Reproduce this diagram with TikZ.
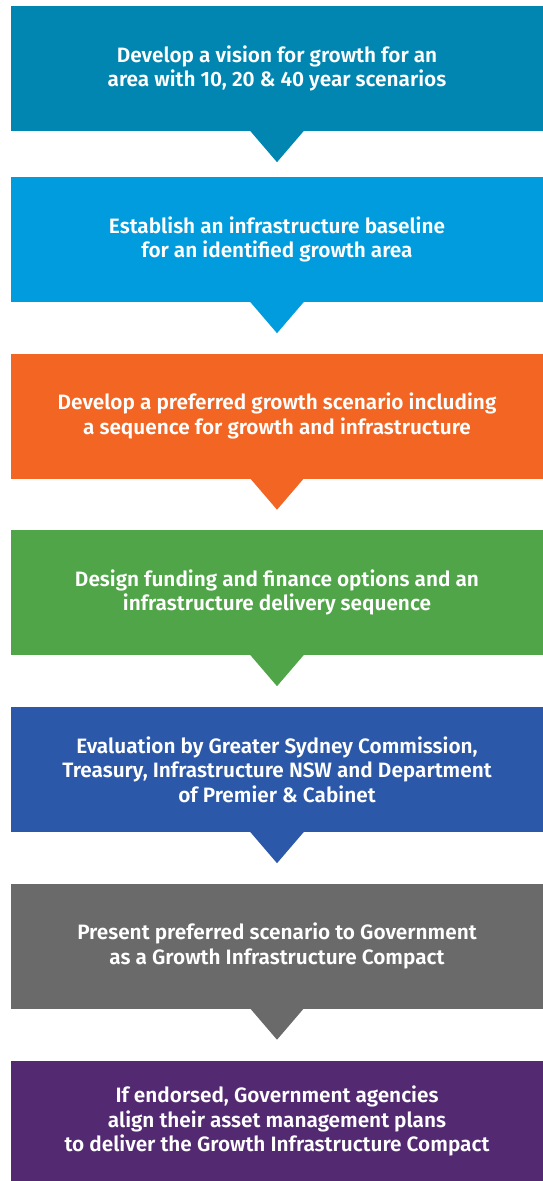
\documentclass[tikz,border=0pt]{standalone}
\usepackage{fontspec}
\setmainfont{Fira Sans SemiBold}
\definecolor{cA}{HTML}{0086B0}
\definecolor{cB}{HTML}{009CDD}
\definecolor{cC}{HTML}{F26522}
\definecolor{cD}{HTML}{50A548}
\definecolor{cE}{HTML}{2B58A8}
\definecolor{cF}{HTML}{6A6A6B}
\definecolor{cG}{HTML}{532A72}
\tikzset{
  stepbox/.style={rectangle, inner sep=0pt, minimum width=532pt, minimum height=125pt,
    text=white, align=center, font=\fontsize{20.8}{24.5}\selectfont}
}
\newcommand{\mypointer}[2]{%
  \fill[#2] ([xshift=-27pt,yshift=0.5pt]#1.south) -- ([xshift=27pt,yshift=0.5pt]#1.south)
    -- ([yshift=-31pt]#1.south) -- cycle;}
\begin{document}
\begin{tikzpicture}[x=1pt,y=-1pt]
\useasboundingbox (0,0) rectangle (543,1181);
\node[stepbox, fill=cA] (s1) at (277,68.5) {Develop a vision for growth for an\\area with 10, 20 \& 40 year scenarios};
\mypointer{s1}{cA}
\node[stepbox, fill=cB] (s2) at (277,239.5) {Establish an infrastructure baseline\\for an identified growth area};
\mypointer{s2}{cB}
\node[stepbox, fill=cC] (s3) at (277,416) {Develop a preferred growth scenario including\\a sequence for growth and infrastructure};
\mypointer{s3}{cC}
\node[stepbox, fill=cD] (s4) at (277,592.5) {Design funding and finance options and an\\infrastructure delivery sequence};
\mypointer{s4}{cD}
\node[stepbox, fill=cE] (s5) at (277,769.5) {Evaluation by Greater Sydney Commission,\\Treasury, Infrastructure NSW and Department\\of Premier \& Cabinet};
\mypointer{s5}{cE}
\node[stepbox, fill=cF] (s6) at (277,946) {Present preferred scenario to Government\\as a Growth Infrastructure Compact};
\mypointer{s6}{cF}
\node[stepbox, fill=cG, minimum height=120pt] (s7) at (277,1121) {If endorsed, Government agencies\\align their asset management plans\\to deliver the Growth Infrastructure Compact};
\end{tikzpicture}
\end{document}
